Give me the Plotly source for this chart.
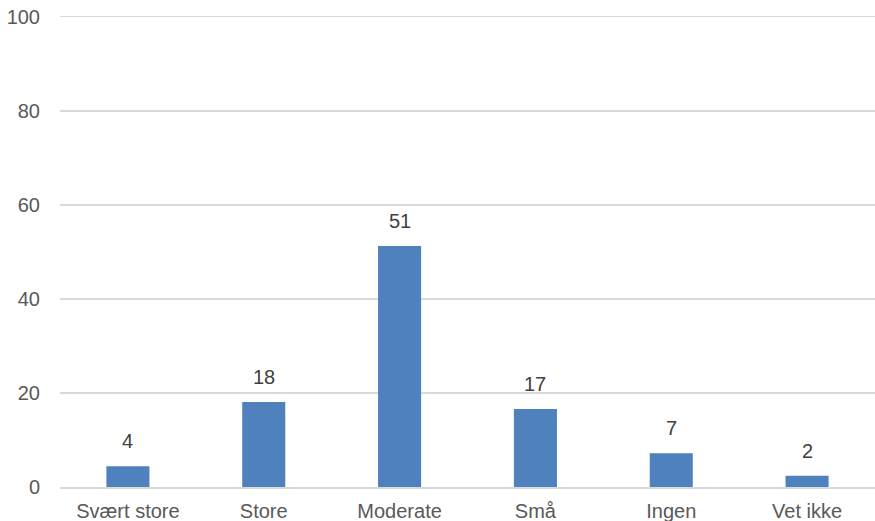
import plotly.graph_objects as go

categories = ["Svært store", "Store", "Moderate", "Små", "Ingen", "Vet ikke"]
values = [4.4, 18.1, 51.3, 16.6, 7.2, 2.4]
y_ticks = [0, 20, 40, 60, 80, 100]

fig = go.Figure()
fig.add_trace(go.Bar(
    x=categories, y=values,
    marker=dict(color="#4F81BD", line=dict(width=0)),
    hoverinfo="skip",
))

for c, v in zip(categories, values):
    fig.add_annotation(
        x=c, y=v, text=str(round(v)), showarrow=False,
        yanchor="bottom", yshift=12,
        font=dict(family="Liberation Sans, Arial", size=20, color="#404040"),
    )

fig.update_layout(
    width=875, height=521,
    margin=dict(l=60, r=0, t=17, b=34, autoexpand=False),
    paper_bgcolor="white", plot_bgcolor="white",
    bargap=0.683,
    showlegend=False,
    font=dict(family="Liberation Sans, Arial", size=20, color="#595959"),
    xaxis=dict(
        showgrid=False, showline=True, mirror=True, linecolor="#D9D9D9", linewidth=1.5,
        ticks="", tickfont=dict(size=20, color="#595959"),
        ticklabelstandoff=5, automargin=False, ticklabeloverflow="allow",
    ),
    yaxis=dict(
        range=[0, 100], tickvals=y_ticks, showgrid=True, gridcolor="#D9D9D9",
        gridwidth=1.5, zeroline=False, showline=False, ticks="",
        tickfont=dict(size=20, color="#595959"),
        ticklabelstandoff=19, automargin=False, ticklabeloverflow="allow",
    ),
)

fig.write_html(
    "out.html",
    config={"displayModeBar": False, "staticPlot": True},
    post_script="document.body.style.margin='0';document.body.style.overflow='hidden';",
)
